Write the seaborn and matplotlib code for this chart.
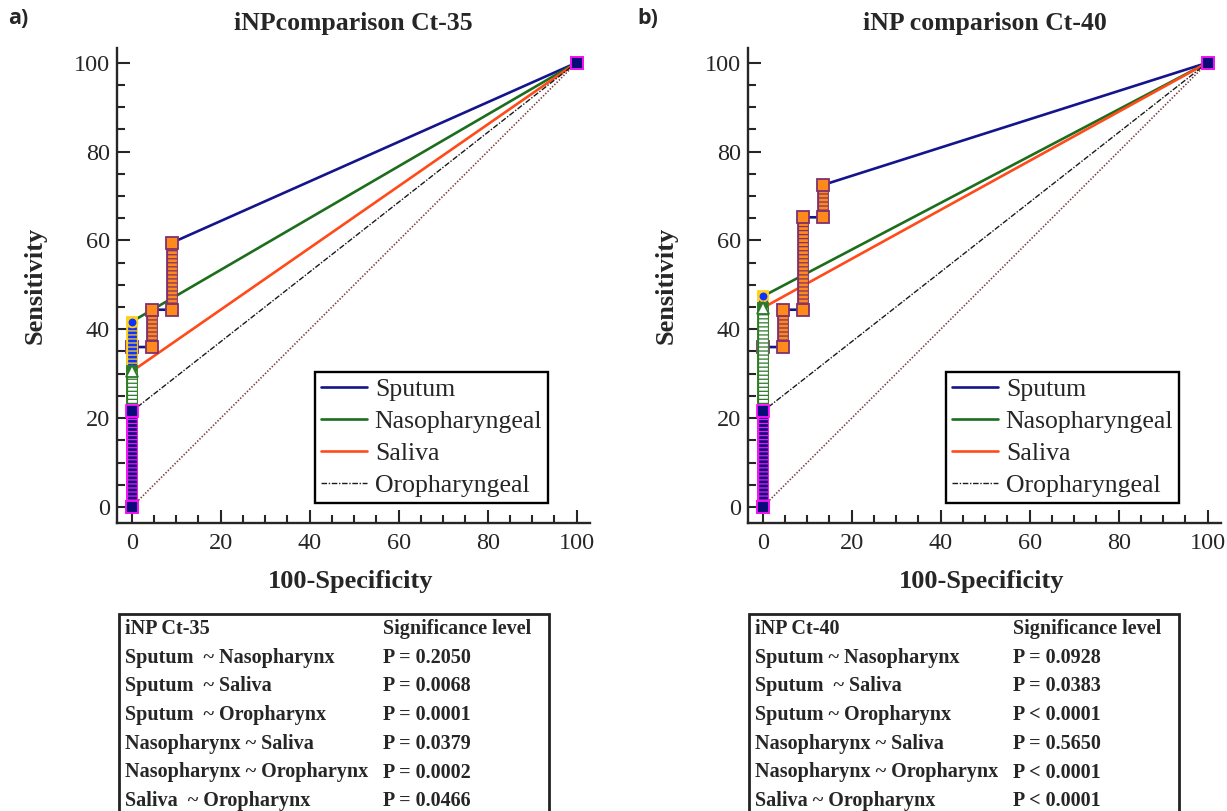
import numpy as np
import pandas as pd
import matplotlib.pyplot as plt
import seaborn as sns
from matplotlib.lines import Line2D
from matplotlib.patches import Rectangle
from matplotlib.ticker import MultipleLocator

# ==========================================
# 0. DATA
# ==========================================
# ROC vertices: 100-Specificity (x) and Sensitivity (y), in %
sputum35_fpr = [0, 0, 4.55, 4.55, 9.09, 9.09, 100]
sputum35_tpr = [0, 36.0, 36.0, 44.4, 44.4, 59.5, 100]
naso35_fpr = [0, 0, 100]
naso35_tpr = [0, 41.7, 100]
saliva35_fpr = [0, 0, 100]
saliva35_tpr = [0, 30.5, 100]
oro35_fpr = [0, 0, 100]
oro35_tpr = [0, 21.5, 100]

sputum40_fpr = [0, 0, 4.55, 4.55, 9.09, 9.09, 13.64, 13.64, 100]
sputum40_tpr = [0, 36.0, 36.0, 44.4, 44.4, 65.2, 65.2, 72.5, 100]
naso40_fpr = [0, 0, 100]
naso40_tpr = [0, 47.4, 100]
saliva40_fpr = [0, 0, 100]
saliva40_tpr = [0, 44.8, 100]
oro40_fpr = [0, 0, 100]
oro40_tpr = [0, 21.5, 100]

curve_names = ["Sputum", "Nasopharyngeal", "Saliva", "Oropharyngeal"]
ref_line = [0, 100]

titles = ["iNPcomparison Ct-35", "iNP comparison Ct-40"]
panel_tags = ["a)", "b)"]

table_heads = ["iNP Ct-35", "iNP Ct-40"]
comparisons35 = ["Sputum  ~ Nasopharynx", "Sputum  ~ Saliva", "Sputum  ~ Oropharynx",
                 "Nasopharynx ~ Saliva", "Nasopharynx ~ Oropharynx", "Saliva  ~ Oropharynx"]
pvals35 = ["P = 0.2050", "P = 0.0068", "P = 0.0001", "P = 0.0379", "P = 0.0002", "P = 0.0466"]
comparisons40 = ["Sputum ~ Nasopharynx", "Sputum  ~ Saliva", "Sputum ~ Oropharynx",
                 "Nasopharynx ~ Saliva", "Nasopharynx ~ Oropharynx", "Saliva ~ Oropharynx"]
pvals40 = ["P = 0.0928", "P = 0.0383", "P < 0.0001", "P = 0.5650", "P < 0.0001", "P < 0.0001"]

# ==========================================
# 1. STYLE
# ==========================================
sns.set_style("ticks")
plt.rcParams['font.family'] = ['Liberation Serif', 'DejaVu Serif']
plt.rcParams['lines.scale_dashes'] = False

# line colour / style, marker face / edge / shape per curve
styles = {
    "Sputum":         dict(color="#14148c", lw=1.9, ls="-",  face="#ff8a1c", edge="#80306e", marker="s", ms=8),
    "Nasopharyngeal": dict(color="#1c6e1c", lw=1.9, ls="-",  face="#1030ff", edge="#ffd21a", marker="o", ms=7),
    "Saliva":         dict(color="#ff4a1a", lw=1.9, ls="-",  face="#ffffff", edge="#2a7a2a", marker="^", ms=8),
    "Oropharyngeal":  dict(color="#1a1a1a", lw=1.0, ls=(0, (4, 1.2, 1, 1.2)), face="#0a0a78", edge="#ff10ff", marker="s", ms=8),
}


def draw_stack(ax, fpr, tpr, st, z):
    # vertical runs of ROC points look like a striped bar of markers
    for i in range(len(fpr) - 1):
        if fpr[i] == fpr[i + 1] and tpr[i + 1] > tpr[i]:
            xs = [fpr[i], fpr[i]]
            ys = [tpr[i], tpr[i + 1]]
            ax.plot(xs, ys, color=st["edge"], lw=8.5, solid_capstyle="projecting", zorder=z)
            ax.plot(xs, ys, color=st["face"], lw=6.3, dashes=(2.0, 0.9),
                    dash_capstyle="butt", zorder=z + 0.1)
    ax.plot(fpr, tpr, ls="none", marker=st["marker"], mfc=st["face"], mec=st["edge"],
            ms=st["ms"], mew=1.3, zorder=z + 0.2, clip_on=False)


def draw_panel(ax, curves, title):
    ax.plot(ref_line, ref_line, color="#7a3b3b", lw=1.2, ls=(0, (1, 1.3)), zorder=1.5)
    for name, (fpr, tpr) in curves.items():
        st = styles[name]
        df = pd.DataFrame({"fpr": fpr, "tpr": tpr})
        sns.lineplot(data=df, x="fpr", y="tpr", sort=False, estimator=None, ax=ax,
                     color=st["color"], lw=st["lw"], linestyle=st["ls"], zorder=2)
    for k, (name, (fpr, tpr)) in enumerate(curves.items()):
        draw_stack(ax, fpr, tpr, styles[name], 3 + k)

    ax.set_xlim(-3.3, 103)
    ax.set_ylim(-3.6, 103.3)
    ax.xaxis.set_major_locator(MultipleLocator(20))
    ax.yaxis.set_major_locator(MultipleLocator(20))
    ax.xaxis.set_minor_locator(MultipleLocator(5))
    ax.yaxis.set_minor_locator(MultipleLocator(5))
    ax.tick_params(which="major", direction="in", length=9.5, width=1.5, labelsize=17.5, pad=5)
    ax.tick_params(which="minor", direction="in", length=5.5, width=1.5)
    ax.tick_params(axis="x", which="major", pad=7)
    sns.despine(ax=ax)
    for sp in ["left", "bottom"]:
        ax.spines[sp].set_linewidth(1.7)

    ax.set_xlabel("100-Specificity", fontsize=19, fontweight="bold")
    ax.set_ylabel("Sensitivity", fontsize=19, fontweight="bold")
    ax.xaxis.set_label_coords(0.493, -0.099)
    ax.yaxis.set_label_coords(-0.148, 0.5)
    ax.text(0.5, 1.052, title, transform=ax.transAxes, ha="center", va="center",
            fontsize=18.5, fontweight="bold")

    handles = [Line2D([0], [0], color=styles[n]["color"], lw=styles[n]["lw"],
                      linestyle=styles[n]["ls"]) for n in curve_names]
    leg = ax.legend(handles, curve_names, loc="lower right", bbox_to_anchor=(0.911, 0.042),
                    fontsize=18.5, frameon=True, fancybox=False, handlelength=1.8,
                    handletextpad=0.3, labelspacing=0.36, borderpad=0.22, borderaxespad=0)
    leg.get_frame().set_edgecolor("black")
    leg.get_frame().set_linewidth(1.7)
    leg.get_frame().set_alpha(1)


def draw_table(fig, x0, head, comps, pvals):
    W, H = 1227, 811
    fig.patches.append(Rectangle((x0 / W, -0.05), 430 / W, 0.05 + 1 - 614 / H, fill=False,
                                 lw=2, ec="#222222", transform=fig.transFigure, figure=fig))
    rows = [(head, "Significance level")] + list(zip(comps, pvals))
    for r, (a, b) in enumerate(rows):
        y = 1 - (629 + 28.7 * r) / H
        fig.text((x0 + 6) / W, y, a, fontsize=14.5, fontweight="bold", va="center", ha="left")
        fig.text((x0 + 264) / W, y, b, fontsize=14.5, fontweight="bold", va="center", ha="left")


# ==========================================
# 2. FIGURE
# ==========================================
fig = plt.figure(figsize=(12.27, 8.11), dpi=100)
W, H = 1227, 811
ax1 = fig.add_axes([117 / W, 1 - 523 / H, 473 / W, 475 / H])
ax2 = fig.add_axes([748 / W, 1 - 523 / H, 473 / W, 475 / H])

draw_panel(ax1, {"Sputum": (sputum35_fpr, sputum35_tpr),
                 "Nasopharyngeal": (naso35_fpr, naso35_tpr),
                 "Saliva": (saliva35_fpr, saliva35_tpr),
                 "Oropharyngeal": (oro35_fpr, oro35_tpr)}, titles[0])
draw_panel(ax2, {"Sputum": (sputum40_fpr, sputum40_tpr),
                 "Nasopharyngeal": (naso40_fpr, naso40_tpr),
                 "Saliva": (saliva40_fpr, saliva40_tpr),
                 "Oropharyngeal": (oro40_fpr, oro40_tpr)}, titles[1])

fig.text(8 / W, 1 - 18 / H, panel_tags[0], fontsize=15.5, fontweight="bold",
         family=["Open Sans", "DejaVu Sans"], va="center", ha="left")
fig.text(637 / W, 1 - 18 / H, panel_tags[1], fontsize=15.5, fontweight="bold",
         family=["Open Sans", "DejaVu Sans"], va="center", ha="left")

draw_table(fig, 119, table_heads[0], comparisons35, pvals35)
draw_table(fig, 749, table_heads[1], comparisons40, pvals40)

fig.savefig("out.png", dpi=100)
